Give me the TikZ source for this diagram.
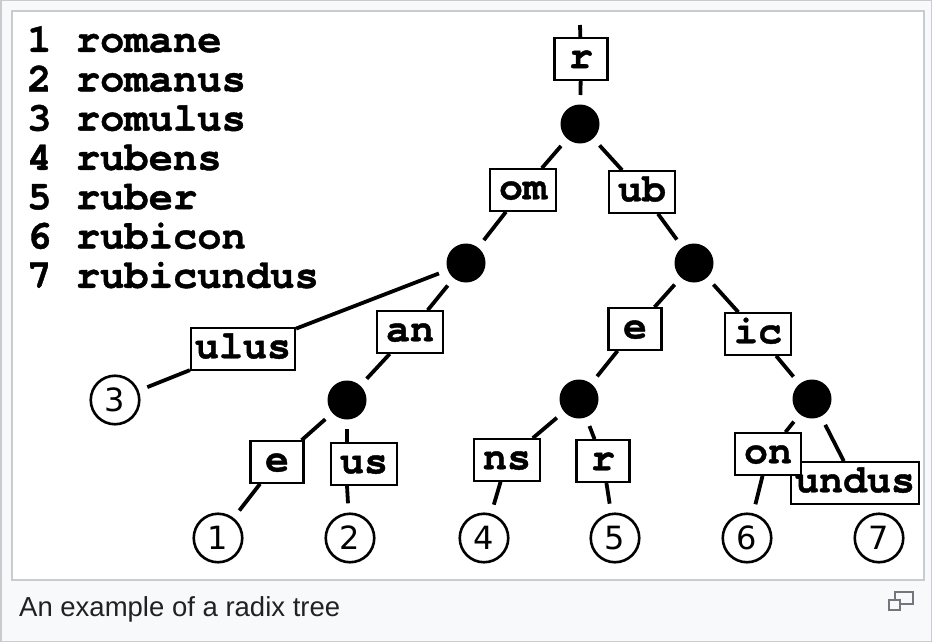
\documentclass[tikz,border=0pt]{standalone}
\usepackage{fontspec}
\setmainfont{Liberation Sans}
\setmonofont{TeX Gyre Cursor}[BoldFeatures={FakeBold=1}]
\newfontfamily\leaffont{DejaVu Sans}
\definecolor{thumbbg}{HTML}{F8F9FA}
\definecolor{thumbline}{HTML}{C8CCD1}
\definecolor{captext}{HTML}{202122}
\definecolor{icongray}{HTML}{72777D}

\begin{document}
\begin{tikzpicture}[x=1pt,y=-1pt,
		link/.style={line width=3.8pt},
		junction/.style={circle,fill,inner sep=0pt,minimum size=39pt,outer sep=9.5pt},
		leaf/.style={circle,draw,line width=2.6pt,inner sep=0pt,minimum size=48.5pt,outer sep=10.5pt,
			font=\leaffont\fontsize{32}{32}\selectfont},
		lbl/.style={draw,fill=white,line width=2.2pt,inner xsep=4pt,inner ysep=4pt,minimum width=66pt,
			text height=26pt,text depth=7.5pt,font=\ttfamily\bfseries\fontsize{40}{40}\selectfont},
		onechar/.style={minimum width=53pt},
		word/.style={anchor=base west,inner sep=0pt,font=\ttfamily\bfseries\fontsize{40.5}{40.5}\selectfont}]
		\useasboundingbox (0,0) rectangle (932,642);
		% thumbnail frame
		\fill[thumbbg] (0,0) rectangle (932,642);
		\draw[thumbline,line width=1.5pt] (0.75,0.75) rectangle (931.25,641.25);
		\filldraw[fill=white,draw=thumbline,line width=1.5pt] (12,11) rectangle (924,580);
		\node[anchor=base west,inner sep=0pt,text=captext,font=\fontsize{27.5}{27.5}\selectfont] (caption)
			at (19,616) {An example of a radix tree};
		\draw[icongray,line width=1.5pt] (895,592) rectangle (913,604);
		\filldraw[fill=thumbbg,draw=icongray,line width=1.5pt] (889,600) rectangle (900,610);
		
		% the keys
		\foreach \w [count=\i] in {romane,romanus,romulus,rubens,ruber,rubicon,rubicundus}
		\node[word] (w\i) at (27,{52+39.3*(\i-1)}) {\i\ \w};
		
		% inner nodes and leaves
		\coordinate (top) at (580,25);
		\node[junction] (d1) at (580,124) {};
		\node[junction] (d2) at (466,263) {};
		\node[junction] (d3) at (694,263) {};
		\node[junction] (d4) at (347,400) {};
		\node[junction] (d5) at (579,399) {};
		\node[junction] (d6) at (812,399) {};
		\foreach \P [count=\i] in {(218,538),(350,538),(115,400),(484,538),(615,538),(747,538),(879,538)}
		{\path \P node[leaf] (l\i) {\i};}
		
		% edge labels
		\node[lbl,onechar] (r) at (581,59) {r};
		\node[lbl] (om) at (523,190) {om};
		\node[lbl] (ub) at (642,192) {ub};
		\node[lbl] (ulus) at (243,349) {ulus};
		\node[lbl] (an) at (410,332) {an};
		\node[lbl,onechar] (e1) at (635,329) {e};
		\node[lbl] (ic) at (758,334) {ic};
		\node[lbl,onechar] (e2) at (277,462) {e};
		\node[lbl] (us) at (364,464) {us};
		\node[lbl] (ns) at (507,460) {ns};
		\node[lbl,onechar] (r2) at (603,461) {r};
		\node[lbl] (undus) at (855,483) {undus};
		\node[lbl] (on) at (768,454) {on};
		
		\draw[link] (top) -- (r);
		\draw[link] (r) -- (d1);
		\foreach \a/\b in {d1/om,om/d2,d1/ub,ub/d3,d2/ulus,ulus/l3,d2/an,an/d4,d3/e1,e1/d5,
			d3/ic,ic/d6,d4/e2,e2/l1,d5/ns,ns/l4,d5/r2,r2/l5,d6/on,on/l6,d6/undus}
		\draw[link] (\a) -- (\b);
		\draw[link] (d4) -- (d4 |- us.north);
		\draw[link] (d4 |- us.south) -- (l2);
\end{tikzpicture}
\end{document}
